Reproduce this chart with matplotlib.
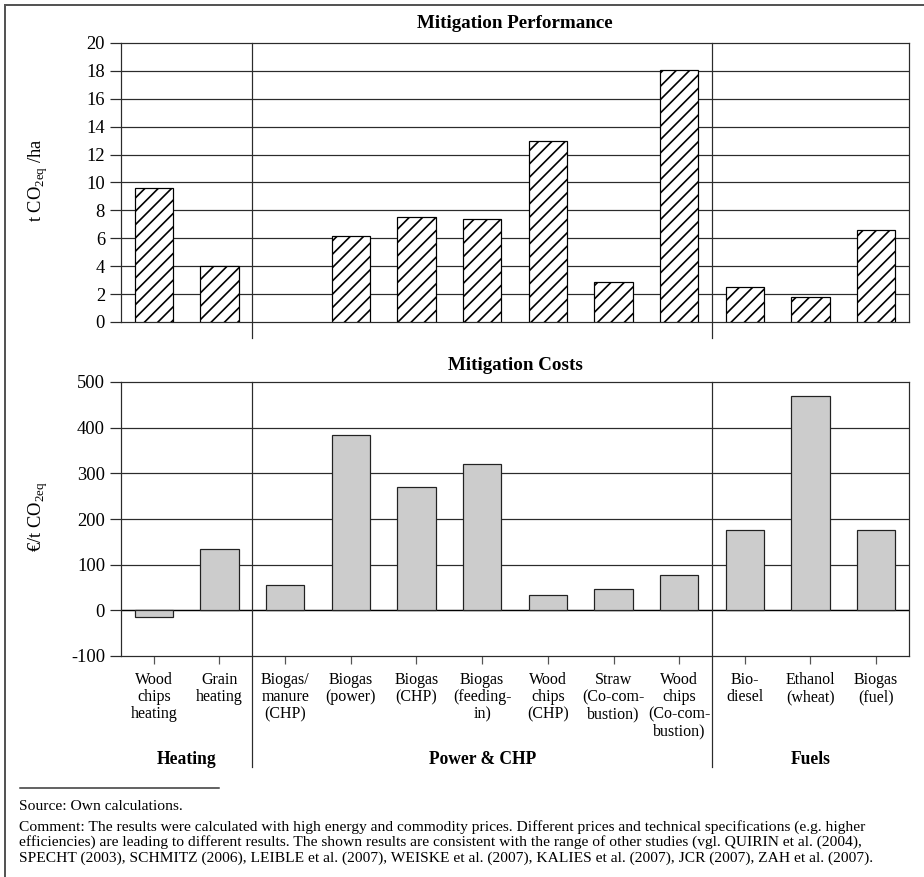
import numpy as np
import matplotlib.pyplot as plt
from matplotlib.lines import Line2D

plt.rcParams["font.family"] = ["Liberation Serif", "DejaVu Serif"]
plt.rcParams["mathtext.fontset"] = "custom"
plt.rcParams["mathtext.rm"] = "Liberation Serif"
plt.rcParams["hatch.linewidth"] = 1.5
plt.rcParams["axes.unicode_minus"] = False

# data
categories = [
    "Wood\nchips\nheating", "Grain\nheating",
    "Biogas/\nmanure\n(CHP)", "Biogas\n(power)", "Biogas\n(CHP)",
    "Biogas\n(feeding-\nin)", "Wood\nchips\n(CHP)", "Straw\n(Co-com-\nbustion)",
    "Wood\nchips\n(Co-com-\nbustion)",
    "Bio-\ndiesel", "Ethanol\n(wheat)", "Biogas\n(fuel)",
]
groups = ["Heating", "Power & CHP", "Fuels"]
group_sizes = [2, 7, 3]
performance = [9.6, 4.0, np.nan, 6.2, 7.55, 7.4, 13.0, 2.9, 18.1, 2.5, 1.8, 6.6]
costs = [-15, 134, 55, 383, 270, 320, 33, 47, 77, 176, 470, 176]
perf_ticks = list(range(0, 21, 2))
cost_ticks = list(range(-100, 501, 100))

DPI = 80
W, H = 924, 877
fig = plt.figure(figsize=(W / DPI, H / DPI), dpi=DPI)


def px(v):
    # pixels -> points at this dpi
    return v * 72.0 / DPI


def fx(x):
    return x / W


def fy(y):
    return 1 - y / H


left, right = 121, 909
ax1 = fig.add_axes([fx(left), fy(322), fx(right - left), (322 - 43) / H])
ax2 = fig.add_axes([fx(left), fy(656), fx(right - left), (656 - 382) / H])

x = np.arange(len(categories))
bounds = np.cumsum(group_sizes)[:-1] - 0.5
centers = []
start = 0
for n in group_sizes:
    centers.append(start + (n - 1) / 2)
    start += n

line_col = "#2b2b2b"

# --- top panel: mitigation performance
ax1.bar(x, performance, width=0.58, color="white", edgecolor="black",
        hatch="//", linewidth=1.1, zorder=3)
ax1.set_xlim(-0.5, len(categories) - 0.5)
ax1.set_ylim(0, 20)
ax1.set_yticks(perf_ticks)
ax1.set_xticks([])
for v in perf_ticks[1:-1]:
    ax1.axhline(v, color=line_col, lw=1.1, zorder=1)
for b in bounds:
    ax1.plot([b, b], [1, -16 / 279], transform=ax1.get_xaxis_transform(),
             color=line_col, lw=1.1, clip_on=False, zorder=2)

# --- bottom panel: mitigation costs
ax2.bar(x, costs, width=0.58, color="#cccccc", edgecolor="#222222",
        linewidth=1.1, zorder=3)
ax2.set_xlim(-0.5, len(categories) - 0.5)
ax2.set_ylim(-100, 500)
ax2.set_yticks(cost_ticks)
ax2.set_xticks(x)
ax2.set_xticklabels(categories, fontsize=px(16), linespacing=1.1, va="top")
for v in cost_ticks[1:-1]:
    ax2.axhline(v, color="black" if v == 0 else line_col,
                lw=1.3 if v == 0 else 1.1, zorder=1)
for b in bounds:
    ax2.plot([b, b], [1, -(767 - 656) / 274], transform=ax2.get_xaxis_transform(),
             color=line_col, lw=1.1, clip_on=False, zorder=2)
for c, g in zip(centers, groups):
    ax2.text(c, -(760 - 656) / 274, g, transform=ax2.get_xaxis_transform(),
             ha="center", va="center", fontsize=px(17.5), fontweight="bold")

for ax in (ax1, ax2):
    for s in ax.spines.values():
        s.set_color(line_col)
        s.set_linewidth(1.1)
    ax.tick_params(axis="y", direction="out", length=px(11), width=1.1,
                   color=line_col, labelsize=px(18.5), pad=px(5))
ax2.tick_params(axis="x", direction="out", length=px(8), width=1.1,
                color="#555555", pad=px(8))

# titles and axis labels
fig.text(fx(515), fy(23), "Mitigation Performance", ha="center", va="center",
         fontsize=px(19), fontweight="bold")
fig.text(fx(515), fy(365), "Mitigation Costs", ha="center", va="center",
         fontsize=px(19), fontweight="bold")
fig.text(fx(38), fy(180), r"t CO$_{\mathrm{2eq}}$ /ha", rotation=90,
         ha="center", va="center", fontsize=px(18.5))
fig.text(fx(38), fy(517), r"€/t CO$_{\mathrm{2eq}}$", rotation=90,
         ha="center", va="center", fontsize=px(18.5))

# outer frame (left and top only, the rest is cut off)
fig.add_artist(Line2D([fx(5), fx(5)], [fy(5), 0], color="#555555", lw=px(2)))
fig.add_artist(Line2D([fx(5), 1], [fy(5), fy(5)], color="#555555", lw=px(2)))

# footnote
fig.add_artist(Line2D([fx(20), fx(219)], [fy(788), fy(788)], color="#333333", lw=px(1.5)))
fn = px(15.5)
fig.text(fx(19), fy(807), "Source: Own calculations.", va="center", fontsize=fn)
comment = [
    "Comment: The results were calculated with high energy and commodity prices. "
    "Different prices and technical specifications (e.g. higher",
    "efficiencies) are leading to different results. The shown results are consistent "
    "with the range of other studies (vgl. QUIRIN et al. (2004),",
    "SPECHT (2003), SCHMITZ (2006), LEIBLE et al. (2007), WEISKE et al. (2007), "
    "KALIES et al. (2007), JCR (2007), ZAH et al. (2007).",
]
for i, line in enumerate(comment):
    fig.text(fx(19), fy(827 + 15.5 * i), line, va="center", fontsize=fn)

fig.savefig("out.png", dpi=DPI)
